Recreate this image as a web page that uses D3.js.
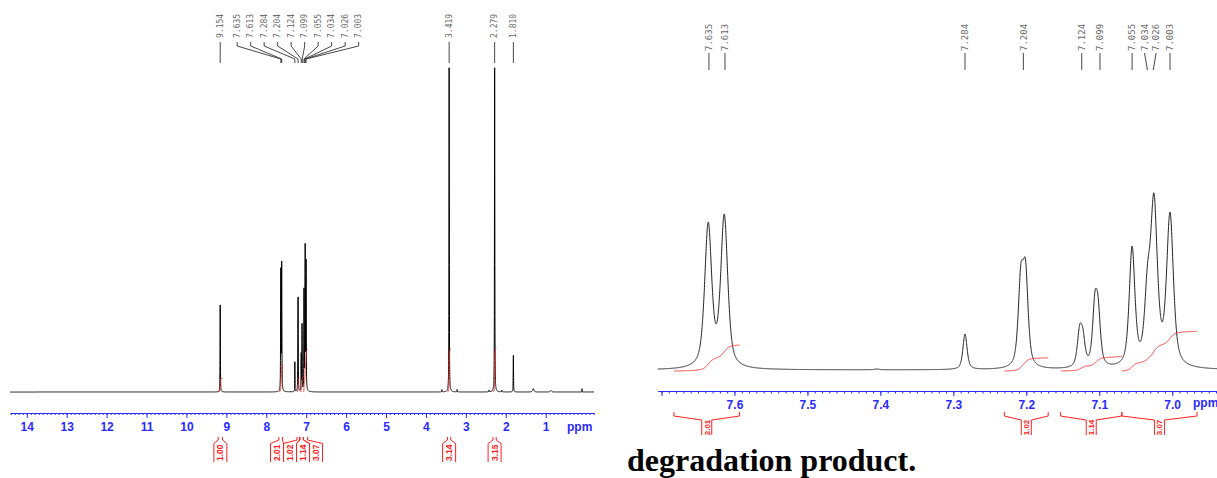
<!DOCTYPE html>
<html><head><meta charset="utf-8">
<script src="https://cdn.jsdelivr.net/npm/d3@7"></script>
<style>body{margin:0;background:#fff}svg{display:block}</style>
</head><body>
<svg id="c" width="1217" height="478"></svg>
<script>
// ---- data ----
// peaks: position (ppm), observed height (intensity units), half width (ppm)
const peakPpm    = [9.154, 7.636, 7.614, 7.405, 7.284, 7.2075, 7.201, 7.127, 7.1225, 7.106, 7.1015, 7.055, 7.034, 7.025, 7.003, 3.60, 3.419, 3.22, 2.42, 2.279, 2.10, 1.810, 1.31, 0.87, 0.09];
const peakHeight = [103.6, 148, 156, 1, 36, 106, 110, 45, 42, 78, 73, 124, 105, 177, 158, 2.9, 386, 3.0, 2.4, 386, 2.4, 43.7, 4.0, 1.8, 3.9];
const peakWidth  = [0.005, 0.0057, 0.0057, 0.004, 0.0034, 0.0042, 0.0042, 0.0037, 0.0037, 0.0038, 0.0038, 0.0046, 0.0046, 0.0055, 0.0055, 0.005, 0.005, 0.005, 0.005, 0.005, 0.005, 0.005, 0.02, 0.02, 0.003];
// peak picking labels
const labelsLeft  = [9.154, 7.635, 7.613, 7.284, 7.204, 7.124, 7.099, 7.055, 7.034, 7.026, 7.003, 3.419, 2.279, 1.810];
const labelsRight = [7.635, 7.613, 7.284, 7.204, 7.124, 7.099, 7.055, 7.034, 7.026, 7.003];
// integrals
const intFrom  = [9.205, 7.683, 7.230, 7.153, 7.069, 3.46, 2.32];
const intTo    = [9.095, 7.593, 7.170, 7.069, 6.966, 3.38, 2.24];
const intValue = [1.00, 2.01, 1.02, 1.14, 3.07, 3.14, 3.15];
// axis ticks
const ticksLeft  = d3.range(1, 15);
const ticksRight = [7.7, 7.6, 7.5, 7.4, 7.3, 7.2, 7.1, 7.0];
const caption = "degradation product.";

// ---- line shape model ----
const eta = 0.6;
function shape(d, w) { const r = d / w; return eta / (1 + r * r) + (1 - eta) * Math.exp(-Math.LN2 * r * r); }
function solve(A, b) {
  const n = b.length; A = A.map(r => r.slice()); b = b.slice();
  for (let k = 0; k < n; k++) {
    let p = k; for (let i = k + 1; i < n; i++) if (Math.abs(A[i][k]) > Math.abs(A[p][k])) p = i;
    [A[k], A[p]] = [A[p], A[k]]; [b[k], b[p]] = [b[p], b[k]];
    for (let i = k + 1; i < n; i++) { const f = A[i][k] / A[k][k]; for (let j = k; j < n; j++) A[i][j] -= f * A[k][j]; b[i] -= f * b[k]; }
  }
  const x = new Array(n).fill(0);
  for (let i = n - 1; i >= 0; i--) { let s = b[i]; for (let j = i + 1; j < n; j++) s -= A[i][j] * x[j]; x[i] = s / A[i][i]; }
  return x;
}
const M = peakPpm.map(pi => peakPpm.map((pj, j) => shape(pi - pj, peakWidth[j])));
const amp = solve(M, peakHeight);
function spec(ppm) { let s = 0; for (let j = 0; j < amp.length; j++) s += amp[j] * shape(ppm - peakPpm[j], peakWidth[j]); return s; }
function grid(hi, lo, step) {
  const a = d3.range(Math.round(lo / step), Math.round(hi / step) + 1).map(i => i * step);
  peakPpm.forEach(p => { if (p >= lo && p <= hi) a.push(p); });
  return a.sort((u, v) => v - u);
}
function integralPts(from, to, value) {
  const pts = grid(from, to, 0.0005).filter(p => p <= from && p >= to);
  let c = 0; const cum = pts.map((p, i) => { if (i > 0) c += (spec(p) + spec(pts[i - 1])) / 2 * (pts[i - 1] - p); return c; });
  return pts.map((p, i) => [p, cum[i] / c * value]);
}
function spread(px, gap) {
  let cl = px.map(x => ({ xs: [x], s: x }));
  let changed = true;
  while (changed) {
    changed = false;
    for (let i = 0; i < cl.length - 1; i++) {
      const a = cl[i], b = cl[i + 1];
      if (a.s + a.xs.length * gap > b.s) {
        const xs = a.xs.concat(b.xs);
        cl.splice(i, 2, { xs, s: d3.mean(xs) - (xs.length - 1) * gap / 2 });
        changed = true; break;
      }
    }
  }
  const out = []; cl.forEach(c => c.xs.forEach((_, k) => out.push(c.s + k * gap)));
  return out;
}

const svg = d3.select("#c");
const BLUE = "#2a2aff", RED = "#ff2020", GRAY = "#6a6a6a";

function panel(o) {
  const g = svg.append("g");
  const clipId = "clip" + o.id;
  svg.append("clipPath").attr("id", clipId).append("rect")
    .attr("x", o.x.range()[0]).attr("y", 0).attr("width", o.x.range()[1] - o.x.range()[0]).attr("height", 478);
  const dom = o.x.domain();
  // spectrum
  const line = d3.line().x(p => o.x(p)).y(p => o.y(spec(p)));
  g.append("path").attr("clip-path", `url(#${clipId})`).attr("d", line(grid(dom[0], dom[1], o.step)))
    .attr("fill", "none").attr("stroke", o.lineColor).attr("stroke-width", 1);
  // integral curves
  const iline = d3.line().x(d => o.x(d[0])).y(d => o.yi(d[1]));
  intFrom.forEach((f, i) => {
    if (f > dom[0] || intTo[i] < dom[1]) return;
    g.append("path").attr("d", iline(integralPts(f, intTo[i], intValue[i])))
      .attr("fill", "none").attr("stroke", RED).attr("stroke-width", 1).attr("opacity", 0.85);
  });
  // axis
  const ax = g.append("g").attr("transform", `translate(0,${o.axisY})`)
    .call(d3.axisBottom(o.x).tickValues(o.major).tickSize(o.majorLen).tickSizeOuter(0).tickPadding(o.pad).tickFormat(o.fmt));
  ax.attr("color", BLUE);
  ax.selectAll("text").attr("font-family", "Liberation Sans, Arial, sans-serif").attr("font-weight", "bold").attr("font-size", o.fs).attr("fill", BLUE);
  ax.select(".domain").attr("stroke-width", 1);
  const mi = g.append("g").attr("transform", `translate(0,${o.axisY})`)
    .call(d3.axisBottom(o.x).tickValues(o.minor).tickSize(o.minorLen).tickFormat(""));
  mi.attr("color", BLUE); mi.select(".domain").remove();
  g.append("text").attr("x", o.ppmX).attr("y", o.ppmY).text("ppm").attr("fill", BLUE)
    .attr("font-family", "Liberation Sans, Arial, sans-serif").attr("font-weight", "bold").attr("font-size", o.fs);
  // peak labels
  const px = o.labels.map(v => o.x(v));
  const lx = spread(px, o.gap);
  o.labels.forEach((v, i) => {
    g.append("text").attr("transform", `translate(${lx[i]},${o.lt.text}) rotate(-90)`).attr("dy", "0.35em")
      .attr("font-family", "DejaVu Sans Mono, monospace").attr("font-size", o.lfs).attr("fill", GRAY).text(v.toFixed(3));
    g.append("path").attr("d", `M${lx[i]},${o.lt.a}V${o.lt.b}L${px[i]},${o.lt.c}V${o.lt.d}`)
      .attr("fill", "none").attr("stroke", "#333").attr("stroke-width", 0.9);
  });
  // integral tags
  const idx = intFrom.map((f, i) => i).filter(i => intFrom[i] <= dom[0] && intTo[i] >= dom[1]);
  const cx = spread(idx.map(i => o.x((intFrom[i] + intTo[i]) / 2)), o.tagGap);
  const t = o.tag;
  idx.forEach((i, k) => {
    const xa = o.x(intFrom[i]), xb = o.x(intTo[i]), c = cx[k];
    g.append("path").attr("d", `M${xa},${t.y0}V${t.y1}L${c - t.hw},${t.y2}V${t.y3}M${xb},${t.y0}V${t.y1}L${c + t.hw},${t.y2}V${t.y3}`)
      .attr("fill", "none").attr("stroke", RED).attr("stroke-width", 1);
    g.append("text").attr("transform", `translate(${c},${(t.y2 + t.y3) / 2}) rotate(-90)`).attr("dy", "0.36em")
      .attr("text-anchor", "middle").attr("font-family", "Liberation Sans, Arial, sans-serif").attr("font-weight", "bold")
      .attr("font-size", t.fs).attr("fill", RED).text(intValue[i].toFixed(2));
  });
}

// left: full spectrum
const xL = d3.scaleLinear().domain([14.42, -0.21]).range([10, 594]);
panel({
  id: "L", x: xL, y: d3.scaleLinear().domain([0, 100]).range([392, 308]), yi: d3.scaleLinear().domain([0, 1]).range([392, 378.2]),
  step: 0.001, lineColor: "#000", axisY: 413, major: ticksLeft, majorLen: 5, minorLen: 2,
  minor: d3.range(-2, 145).map(i => i / 10), pad: 4, fmt: d3.format("d"), fs: 12, ppmX: 567, ppmY: 431,
  labels: labelsLeft, gap: 13.5, lfs: 8, lt: { text: 38, a: 42, b: 46, c: 59, d: 63 },
  tagGap: 13, tag: { y0: 437, y1: 440, y2: 443.5, y3: 462, hw: 6.5, fs: 8.5 }
});
// right: expansion of the aromatic region
const xR = d3.scaleLinear().domain([7.7055, 6.9386]).range([657.5, 1217]);
panel({
  id: "R", x: xR, y: d3.scaleLinear().domain([0, 100]).range([370, 270]), yi: d3.scaleLinear().domain([0, 1]).range([371, 358.1]),
  step: 0.0002, lineColor: "#222", axisY: 391, major: ticksRight, majorLen: 5, minorLen: 2.5,
  minor: d3.range(694, 771).map(i => i / 100), pad: 4, fmt: d => (d === 7.7 ? "" : d.toFixed(1)), fs: 12, ppmX: 1193, ppmY: 407,
  labels: labelsRight, gap: 11.6, lfs: 9, lt: { text: 51, a: 53, b: 53, c: 70, d: 70 },
  tagGap: 12, tag: { y0: 412, y1: 416, y2: 420, y3: 435, hw: 5, fs: 8 }
});

svg.append("text").attr("x", 627).attr("y", 471).text(caption)
  .attr("font-family", "Liberation Serif, Times New Roman, serif").attr("font-weight", "bold").attr("font-size", 32).attr("fill", "#000");
</script>
</body></html>
